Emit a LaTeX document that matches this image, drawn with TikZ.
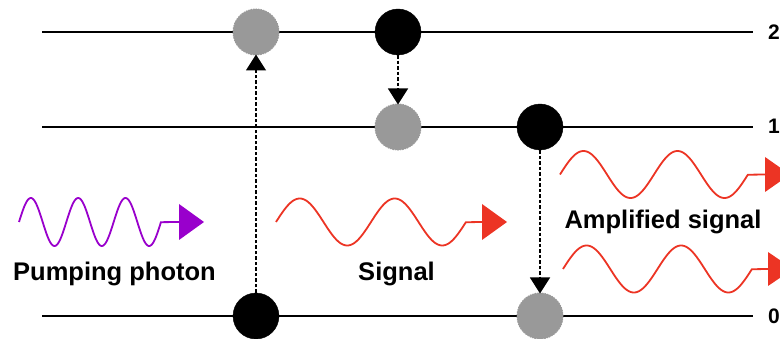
\documentclass[tikz,border=0pt]{standalone}
\usepackage{fontspec}
\setmainfont{Liberation Sans}
\usetikzlibrary{arrows.meta}
\definecolor{dotgray}{RGB}{153,153,153}
\definecolor{pumpc}{RGB}{153,0,204}
\definecolor{sigc}{RGB}{236,52,36}
\tikzset{
  level/.style={line width=1.8pt, black},
  full/.style={circle, fill=black, draw=black, minimum size=46pt, inner sep=0pt},
  empty/.style={circle, fill=dotgray, draw=dotgray, dash pattern=on 1.5pt off 1pt, line width=1pt, minimum size=46pt, inner sep=0pt},
  jump/.style={line width=1.3pt, dash pattern=on 3.5pt off 2pt, -{Triangle[width=20pt,length=16pt]}, shorten >=-1pt},
  wave/.style={line width=1.8pt},
  lbl/.style={font=\bfseries\fontsize{25.5}{30}\selectfont, inner sep=0pt},
  lvl/.style={font=\bfseries\fontsize{21}{24}\selectfont, inner sep=0pt, anchor=base west},
}
\begin{document}
\begin{tikzpicture}[x=1pt,y=-1pt]
\useasboundingbox (0,0) rectangle (780,339);
% energy levels
\coordinate (l2a) at (42,32); \coordinate (l2b) at (753,32);
\coordinate (l1a) at (42,127); \coordinate (l1b) at (753,127);
\coordinate (l0a) at (42,316); \coordinate (l0b) at (753,316);
\draw[level] (l2a) -- (l2b);
\draw[level] (l1a) -- (l1b);
\draw[level] (l0a) -- (l0b);
\node[lvl] (n2) at (768,39.5) {2};
\node[lvl] (n1) at (768,134) {1};
\node[lvl] (n0) at (768,323.5) {0};
% atoms
\node[empty] (e2) at (256,32) {};
\node[full]  (f2) at (398,32) {};
\node[empty] (e1) at (398,127) {};
\node[full]  (f1) at (540,127) {};
\node[full]  (f0) at (256,316) {};
\node[empty] (e0) at (540,316) {};
% transitions
\draw[jump] (f0) -- (e2);
\draw[jump] (f2) -- (e1);
\draw[jump] (f1) -- (e0);
% pumping photon
\draw[wave, pumpc] plot[domain=0:3, samples=150, smooth] ({19+47.33*\x},{222-24*sin(360*\x)}) -- (179,222);
\fill[pumpc] (179,204) -- (204,222) -- (179,240) -- cycle;
% signal
\draw[wave, sigc] plot[domain=0:2, samples=150, smooth] ({276+95*\x},{222-23.5*sin(360*\x)}) -- (482,222);
\fill[sigc] (482,204) -- (507,222) -- (482,240) -- cycle;
% amplified
\draw[wave, sigc] plot[domain=0:2, samples=150, smooth] ({560+94*\x},{174.5-23.5*sin(360*\x)}) -- (765,174.5);
\fill[sigc] (765,157) -- (790,174.5) -- (765,192) -- cycle;
\draw[wave, sigc] plot[domain=0:2, samples=150, smooth] ({563+94.5*\x},{269-23.5*sin(360*\x)}) -- (768,269);
\fill[sigc] (768,252) -- (793,269) -- (768,286) -- cycle;
% labels
\node[lbl, anchor=base] (tp) at (114.5,281) {Pumping photon};
\node[lbl, anchor=base] (ts) at (396.5,281) {Signal};
\node[lbl, anchor=base] (ta) at (663,229) {Amplified signal};
\end{tikzpicture}
\end{document}
